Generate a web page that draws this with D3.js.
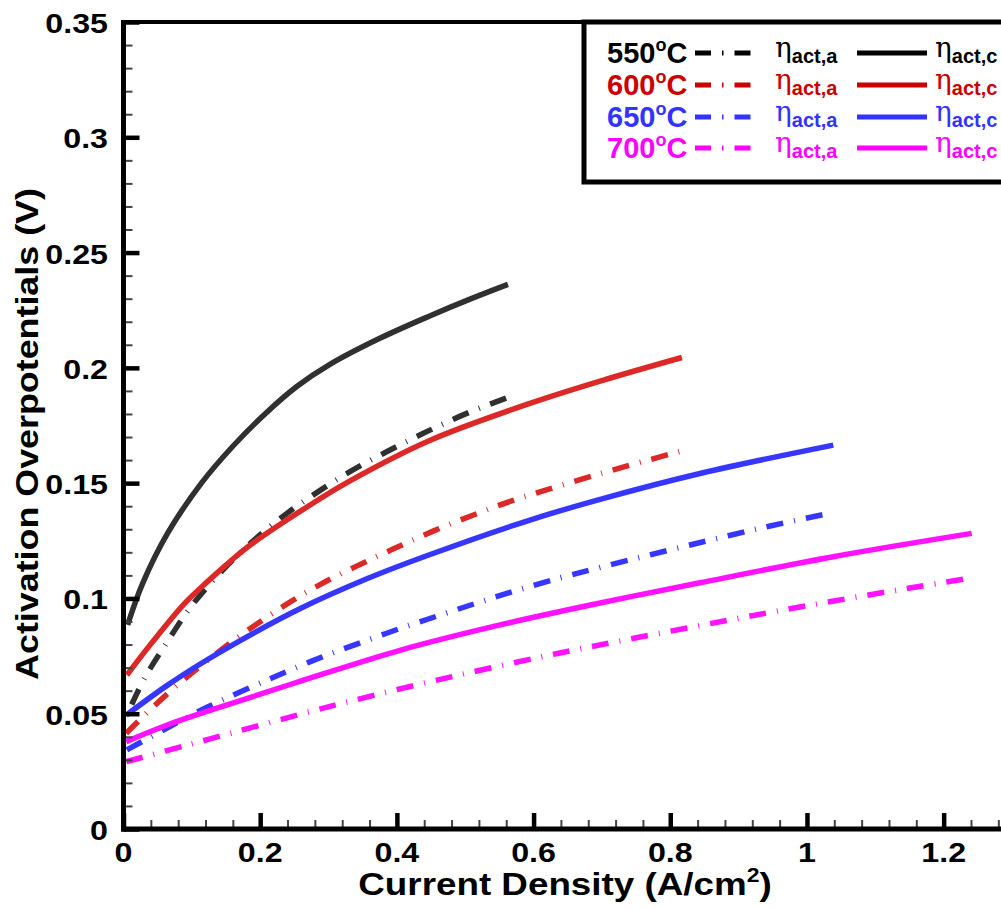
<!DOCTYPE html>
<html>
<head>
<meta charset="utf-8">
<script src="https://cdn.jsdelivr.net/npm/d3@7"></script>
<style>
  html, body { margin: 0; padding: 0; background: #fff; }
  svg { display: block; }
  text { font-family: "Liberation Sans", Arial, sans-serif; font-weight: bold; }
</style>
</head>
<body>
<svg id="chart" width="1001" height="908"></svg>
<script>
// Activation overpotentials vs. current density, [i (A/cm2), eta (V)]
const anode550 = [[0.012,0.054],[0.031,0.0655],[0.0626,0.0805],[0.0968,0.0957],[0.138,0.110],[0.182,0.1229],[0.2285,0.1345],[0.2777,0.1449],[0.3314,0.155],[0.385,0.1636],[0.4386,0.1716],[0.497,0.1796],[0.5625,0.1872]];
const cathode550 = [[0.006,0.0885],[0.028,0.1065],[0.065,0.1285],[0.114,0.150],[0.16,0.166],[0.207,0.180],[0.254,0.192],[0.302,0.2015],[0.375,0.2128],[0.448,0.2225],[0.507,0.2298],[0.5625,0.2362]];
const anode600 = [[0.004,0.0415],[0.0164,0.0452],[0.0407,0.0522],[0.0846,0.0639],[0.1334,0.0755],[0.180,0.0858],[0.2388,0.0975],[0.2875,0.106],[0.341,0.114],[0.395,0.1215],[0.453,0.1292],[0.512,0.1362],[0.570,0.1425],[0.70,0.1543],[0.817,0.164]];
const cathode600 = [[0.005,0.0668],[0.0407,0.0805],[0.0895,0.0979],[0.1236,0.1075],[0.1558,0.116],[0.187,0.1235],[0.2846,0.1427],[0.3314,0.151],[0.448,0.1685],[0.5947,0.1846],[0.70,0.1945],[0.817,0.2045]];
const anode650 = [[0.005,0.0343],[0.065,0.044],[0.1236,0.053],[0.2388,0.0683],[0.2923,0.0748],[0.3485,0.081],[0.407,0.0872],[0.4655,0.093],[0.519,0.0982],[0.570,0.103],[0.6484,0.1097],[0.885,0.1272],[0.946,0.1314],[1.007,0.1353],[1.038,0.1372]];
const cathode650 = [[0.004,0.0494],[0.065,0.0625],[0.114,0.0719],[0.1675,0.0812],[0.258,0.0955],[0.356,0.1085],[0.4436,0.1185],[0.5947,0.134],[0.70,0.1432],[0.8435,0.1542],[1.0385,0.1665]];
const anode700 = [[0.004,0.0292],[0.07,0.0345],[0.128,0.0392],[0.258,0.0497],[0.369,0.0582],[0.49,0.0667],[0.609,0.0745],[0.669,0.0782],[0.907,0.0918],[1.026,0.0982],[1.146,0.1043],[1.239,0.1088]];
const cathode700 = [[0.004,0.0379],[0.065,0.0452],[0.138,0.0525],[0.258,0.064],[0.4045,0.0775],[0.551,0.0885],[0.6973,0.098],[0.8435,0.1068],[1.0385,0.1181],[1.241,0.1282]];

const temperatures = ["550", "600", "650", "700"];
const lineColors = ["#303030", "#dd2828", "#3636ff", "#ff12ff"];
const textColors = ["#000000", "#cc0000", "#3333ff", "#ff00ff"];

const xTickValues = [0, 0.2, 0.4, 0.6, 0.8, 1.0, 1.2];
const xTickLabels = ["0", "0.2", "0.4", "0.6", "0.8", "1", "1.2"];
const yTickValues = [0, 0.05, 0.1, 0.15, 0.2, 0.25, 0.3, 0.35];
const yTickLabels = ["0", "0.05", "0.1", "0.15", "0.2", "0.25", "0.3", "0.35"];

const svg = d3.select("#chart");
const x = d3.scaleLinear().domain([0, 1.3]).range([123.5, 1012]);
const y = d3.scaleLinear().domain([0, 0.35]).range([829, 22]);

// stretched bold text used for tick labels and axis titles
function wideText(px, py, size, anchor, angle, stretch) {
  const g = svg.append("g")
    .attr("transform", `translate(${px},${py}) rotate(${angle || 0}) scale(${stretch || 1.15},1)`);
  return g.append("text")
    .attr("x", 0).attr("y", 0)
    .attr("text-anchor", anchor)
    .attr("font-size", size)
    .attr("fill", "#000");
}

// curves
const line = d3.line()
  .x(d => x(d[0]))
  .y(d => y(d[1]))
  .curve(d3.curveCatmullRom.alpha(0.5));

const series = [
  [anode550, cathode550], [anode600, cathode600],
  [anode650, cathode650], [anode700, cathode700]
];
const curveG = svg.append("g");
series.forEach((pair, k) => {
  curveG.append("path").datum(pair[0])
    .attr("d", line).attr("fill", "none")
    .attr("stroke", lineColors[k]).attr("stroke-width", 5.5)
    .attr("stroke-dasharray", "17,11,1,11");
  curveG.append("path").datum(pair[1])
    .attr("d", line).attr("fill", "none")
    .attr("stroke", lineColors[k]).attr("stroke-width", 5.5);
});

// minor ticks
const yMinor = d3.range(0, 0.3501, 0.01).filter(v => !yTickValues.some(t => Math.abs(t - v) < 1e-6));
const xMinor = d3.range(0, 1.3, 0.04).filter(v => !xTickValues.some(t => Math.abs(t - v) < 1e-6));

svg.append("g")
  .attr("transform", `translate(${x(0)},0)`)
  .call(d3.axisLeft(y).tickValues(yMinor).tickSize(-9).tickFormat(""))
  .call(g => g.select(".domain").remove())
  .call(g => g.selectAll("line").attr("stroke", "#444").attr("stroke-width", 2));
svg.append("g")
  .attr("transform", `translate(0,${y(0)})`)
  .call(d3.axisBottom(x).tickValues(xMinor).tickSize(-9).tickFormat(""))
  .call(g => g.select(".domain").remove())
  .call(g => g.selectAll("line").attr("stroke", "#444").attr("stroke-width", 2));

// major ticks
svg.append("g")
  .attr("transform", `translate(${x(0)},0)`)
  .call(d3.axisLeft(y).tickValues(yTickValues).tickSize(-16).tickFormat(""))
  .call(g => g.select(".domain").remove())
  .call(g => g.selectAll("line").attr("stroke", "#000").attr("stroke-width", 4.5));
svg.append("g")
  .attr("transform", `translate(0,${y(0)})`)
  .call(d3.axisBottom(x).tickValues(xTickValues).tickSize(-16).tickFormat(""))
  .call(g => g.select(".domain").remove())
  .call(g => g.selectAll("line").attr("stroke", "#000").attr("stroke-width", 4.5));

// frame
svg.append("line").attr("x1", x(0)).attr("x2", x(1.3)).attr("y1", y(0.35)).attr("y2", y(0.35))
  .attr("stroke", "#000").attr("stroke-width", 4);
svg.append("line").attr("x1", x(1.3)).attr("x2", x(1.3)).attr("y1", y(0.35)).attr("y2", y(0))
  .attr("stroke", "#000").attr("stroke-width", 4);
svg.append("line").attr("x1", x(0)).attr("x2", x(0)).attr("y1", y(0.35) - 2).attr("y2", y(0) + 2.5)
  .attr("stroke", "#000").attr("stroke-width", 5);
svg.append("line").attr("x1", x(0) - 2.5).attr("x2", x(1.3)).attr("y1", y(0)).attr("y2", y(0))
  .attr("stroke", "#000").attr("stroke-width", 5);

// tick labels
yTickValues.forEach((v, i) => {
  wideText(108, y(v) + 11, 28, "end").text(yTickLabels[i]);
});
xTickValues.forEach((v, i) => {
  wideText(x(v), 862, 28, "middle").text(xTickLabels[i]);
});

// axis titles
wideText(38, 434, 32, "middle", -90, 1.12).text("Activation Overpotentials (V)");
const xt = wideText(565, 895, 32, "middle");
xt.append("tspan").text("Current Density (A/cm");
xt.append("tspan").attr("font-size", 20).attr("dy", -13).text("2");
xt.append("tspan").attr("dy", 13).text(")");

// legend
const legend = svg.append("g");
legend.append("rect")
  .attr("x", 584).attr("y", 22).attr("width", 440).attr("height", 160)
  .attr("fill", "#fff").attr("stroke", "#000").attr("stroke-width", 5);

const rowBase = [63, 95, 127, 158];
temperatures.forEach((tp, k) => {
  const b = rowBase[k];
  const t = legend.append("text")
    .attr("x", 607).attr("y", b)
    .attr("font-size", 29).attr("fill", textColors[k]);
  t.append("tspan").text(tp);
  t.append("tspan").attr("font-size", 18).attr("dy", -12).text("o");
  t.append("tspan").attr("dy", 12).text("C");

  legend.append("line")
    .attr("x1", 695).attr("x2", 756).attr("y1", b - 10).attr("y2", b - 10)
    .attr("stroke", textColors[k]).attr("stroke-width", 5)
    .attr("stroke-dasharray", "16,11,1.5,11");
  legend.append("line")
    .attr("x1", 857).attr("x2", 927).attr("y1", b - 10).attr("y2", b - 10)
    .attr("stroke", textColors[k]).attr("stroke-width", 5);

  [["act,a", 775], ["act,c", 935]].forEach(([sub, px]) => {
    const e = legend.append("text")
      .attr("x", px).attr("y", b - 6)
      .attr("fill", textColors[k]);
    e.append("tspan")
      .style("font-family", "'DejaVu Serif', 'Liberation Serif', serif")
      .style("font-weight", "normal")
      .attr("font-size", 28).text("\u03b7");
    e.append("tspan").attr("font-size", 20).attr("dy", 6).text(sub);
  });
});
</script>
</body>
</html>
